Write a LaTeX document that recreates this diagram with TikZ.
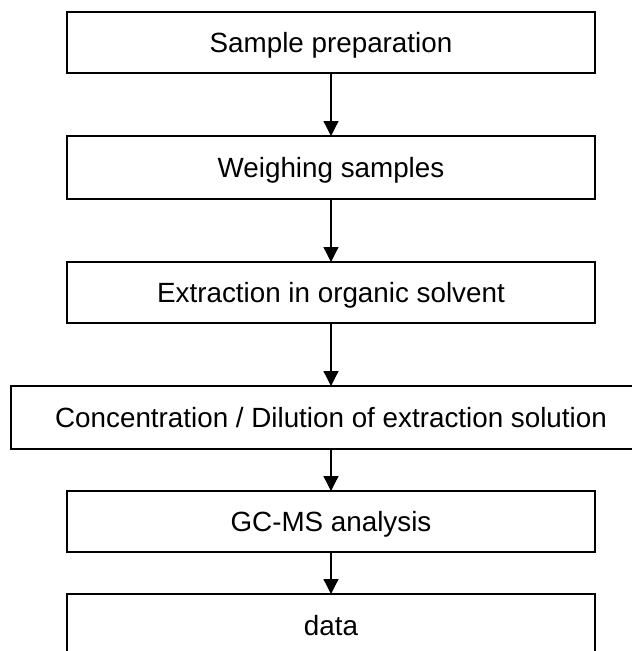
\documentclass[tikz,border=0pt]{standalone}
\usepackage{fontspec}
\setmainfont{Liberation Sans}
\usetikzlibrary{arrows.meta}
\begin{document}
\begin{tikzpicture}[x=1pt,y=-1pt,
  stepbox/.style={draw=black, line width=1.6pt, fill=white, inner sep=0pt, outer sep=0pt,
    minimum width=528pt, font=\fontsize{27.8}{33}\selectfont, text height=20pt, text depth=0pt},
  flow/.style={draw=black, line width=1.3pt, -{Triangle[width=15pt,length=15pt]}}]
\useasboundingbox (0,0) rectangle (632,651);
\fill[white] (0,0) rectangle (632,651);
\clip (0,0) rectangle (632,651);
\node[stepbox, minimum height=61pt] (s1) at (331,42.5) {Sample preparation};
\node[stepbox, minimum height=63pt] (s2) at (331,167.5) {Weighing samples};
\node[stepbox, minimum height=61pt] (s3) at (331,292.5) {Extraction in organic solvent};
\node[stepbox, minimum height=63pt, minimum width=640pt] (s4) at (331,417.5) {Concentration / Dilution of extraction solution};
\node[stepbox, minimum height=61pt] (s5) at (331,521.5) {GC-MS analysis};
\node[stepbox, minimum height=62pt] (s6) at (331,625) {data};
\draw[flow] (s1.south) -- (s2.north);
\draw[flow] (s2.south) -- (s3.north);
\draw[flow] (s3.south) -- (s4.north);
\draw[flow] (s4.south) -- (s5.north);
\draw[flow] (s5.south) -- (s6.north);
\end{tikzpicture}
\end{document}
